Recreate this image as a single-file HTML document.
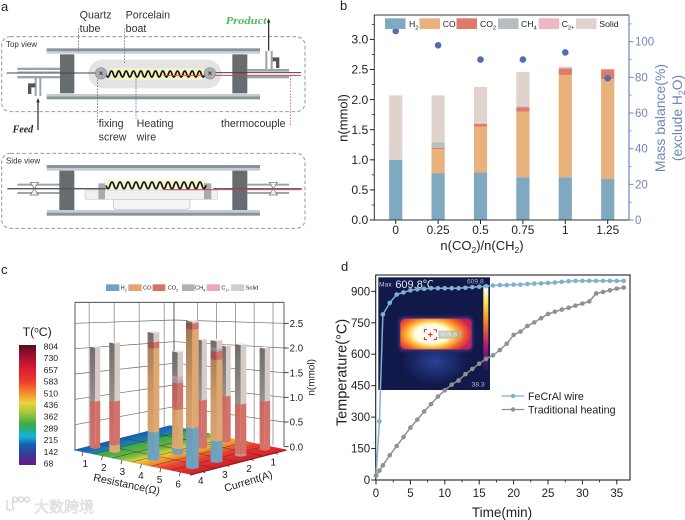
<!DOCTYPE html>
<html lang="en">
<head>
<meta charset="utf-8">
<title>Reactor schematic and results</title>
<style>
html,body{margin:0;padding:0;background:#fff;width:685px;height:520px;overflow:hidden}
svg{display:block;font-family:"Liberation Sans","Noto Sans CJK SC",sans-serif}
</style>
</head>
<body>
<svg id="fig" xmlns="http://www.w3.org/2000/svg" width="685" height="520" viewBox="0 0 685 520">
<defs>
  <linearGradient id="cbar" x1="0" y1="0" x2="0" y2="1">
    <stop offset="0" stop-color="#5a0a20"/><stop offset=".1" stop-color="#a80f30"/><stop offset=".2" stop-color="#dd1c32"/>
    <stop offset=".3" stop-color="#ec3a30"/><stop offset=".4" stop-color="#f58a2c"/><stop offset=".48" stop-color="#e8d23a"/>
    <stop offset=".56" stop-color="#a8c83c"/><stop offset=".66" stop-color="#40a84a"/><stop offset=".72" stop-color="#1fb09a"/>
    <stop offset=".76" stop-color="#16b5e0"/><stop offset=".83" stop-color="#1560b0"/><stop offset=".91" stop-color="#3a3a98"/>
    <stop offset="1" stop-color="#6a1a80"/>
  </linearGradient>
  <linearGradient id="floorGrad" gradientUnits="userSpaceOnUse" x1="0" y1="0" x2="1" y2="0" gradientTransform="matrix(350,73,290,-74,220,570)">
    <stop offset="0" stop-color="#1a5cb0"/><stop offset=".13" stop-color="#1a7ab8"/><stop offset=".2" stop-color="#3ca84c"/>
    <stop offset=".38" stop-color="#72b840"/><stop offset=".5" stop-color="#e8d23a"/><stop offset=".62" stop-color="#f5902c"/>
    <stop offset=".76" stop-color="#ea3c30"/><stop offset="1" stop-color="#d81f2c"/>
  </linearGradient>
  <linearGradient id="shade" x1="0" y1="0" x2="0" y2="1">
    <stop offset="0" stop-color="#000" stop-opacity=".3"/><stop offset=".5" stop-color="#000" stop-opacity=".08"/><stop offset="1" stop-color="#000" stop-opacity="0"/>
  </linearGradient>
  <radialGradient id="hot" cx="290" cy="222" r="122" gradientUnits="userSpaceOnUse" gradientTransform="translate(290 222) scale(1 .55) translate(-290 -222)">
    <stop offset="0" stop-color="#fff"/><stop offset=".42" stop-color="#fffbe8"/><stop offset=".52" stop-color="#ffe070"/>
    <stop offset=".66" stop-color="#ffa030"/><stop offset=".82" stop-color="#f05a2a"/><stop offset="1" stop-color="#c8205a"/>
  </radialGradient>
  <linearGradient id="thermo" x1="0" y1="0" x2="0" y2="1">
    <stop offset="0" stop-color="#fff"/><stop offset=".2" stop-color="#ffe040"/><stop offset=".45" stop-color="#f57a20"/>
    <stop offset=".7" stop-color="#b01a70"/><stop offset="1" stop-color="#1a1a60"/>
  </linearGradient>
  <radialGradient id="refl" cx=".5" cy=".5" r=".5">
    <stop offset="0" stop-color="#2a4096"/><stop offset="1" stop-color="#10194a"/>
  </radialGradient>
  <filter id="soft" x="-20%" y="-20%" width="140%" height="140%"><feGaussianBlur stdDeviation="4"/></filter>
</defs>

<!-- panel labels -->
<text x="1" y="11" font-size="13" fill="#222">a</text>
<text x="340" y="10" font-size="13" fill="#222">b</text>
<text x="1" y="274" font-size="13" fill="#222">c</text>
<text x="341" y="271" font-size="13" fill="#222">d</text>

<!-- panel a schematic, drawn at 3x units -->
<g id="panelA" transform="scale(.33333)">
  <rect x="5" y="110" width="910" height="225" rx="26" fill="none" stroke="#999" stroke-width="3" stroke-dasharray="11 7"/>
  <rect x="5" y="460" width="910" height="225" rx="26" fill="none" stroke="#999" stroke-width="3" stroke-dasharray="11 7"/>
  <text x="18" y="141" font-size="24" fill="#333">Top view</text>
  <text x="18" y="490" font-size="24" fill="#333">Side view</text>

  <!-- top view -->
  <g>
    <rect x="140" y="145" width="640" height="9" fill="#87949c"/><rect x="140" y="154" width="640" height="7" fill="#c4cdd2"/>
    <rect x="140" y="282" width="640" height="7" fill="#c4cdd2"/><rect x="140" y="289" width="640" height="9" fill="#87949c"/>
    <rect x="52" y="203" width="128" height="7" fill="#9aa5ab"/><rect x="52" y="213" width="128" height="5" fill="#c4cdd2"/>
    <rect x="52" y="228" width="128" height="7" fill="#9aa5ab"/>
    <rect x="742" y="207" width="125" height="8" fill="#9aa5ab"/><rect x="742" y="228" width="125" height="7" fill="#9aa5ab"/>
    <rect x="104" y="228" width="6" height="60" fill="#9aa5ab"/><rect x="118" y="228" width="6" height="60" fill="#9aa5ab"/>
    <rect x="796" y="153" width="6" height="56" fill="#9aa5ab"/><rect x="812" y="153" width="6" height="56" fill="#9aa5ab"/>
    <path d="M84 250h22v12h-22zM84 262h10v20h-10z" fill="#555"/><path d="M818 172h20v12h-20zM828 184h10v20h-10z" fill="#555"/>
    <rect x="180" y="163" width="43" height="117" fill="#676c70"/><rect x="697" y="163" width="45" height="117" fill="#676c70"/>
  </g>
  <rect x="265" y="179" width="400" height="86" rx="43" fill="#e4e4e4"/>
  <rect x="332" y="205" width="278" height="35" fill="#f4f5c6"/>
  <path d="M20 219H295" stroke="#444" stroke-width="3" fill="none"/>
  <path d="M640 218H903" stroke="#444" stroke-width="3" fill="none"/>
  <path id="coilTop" fill="none" stroke="#111" stroke-width="5"/>
  <path d="M490 226H903" stroke="#d8414f" stroke-width="3" fill="none"/>
  <circle cx="303" cy="220" r="17" fill="#aab0b4" stroke="#888" stroke-width="2"/>
  <circle cx="630" cy="220" r="17" fill="#aab0b4" stroke="#888" stroke-width="2"/>
  <path d="M298 215l10 10M308 215l-10 10M625 215l10 10M635 215l-10 10" stroke="#533" stroke-width="2.5"/>

  <!-- annotation leaders -->
  <path d="M235 85V158M373 85V190M293 238V372M408 236V356" stroke="#555" stroke-width="2" stroke-dasharray="5 4" fill="none"/>
  <path d="M872 226V375" stroke="#d8414f" stroke-width="2" stroke-dasharray="5 4" fill="none"/>
  <path d="M114 390V304" stroke="#222" stroke-width="3.5" fill="none"/><path d="M114 294l-5 13h10z" fill="#222"/>
  <path d="M806 152V66" stroke="#222" stroke-width="3.5" fill="none"/><path d="M806 55l-5 13h10z" fill="#222"/>

  <g font-size="32" fill="#333">
    <text><tspan x="239" y="55">Quartz</tspan><tspan x="239" y="96">tube</tspan></text>
    <text><tspan x="377" y="55">Porcelain</tspan><tspan x="377" y="96">boat</tspan></text>
    <text><tspan x="296" y="381">fixing</tspan><tspan x="296" y="421">screw</tspan></text>
    <text><tspan x="410" y="381">Heating</tspan><tspan x="410" y="421">wire</tspan></text>
    <text x="663" y="381">thermocouple</text>
  </g>
  <text x="677" y="72" font-size="32" font-weight="bold" font-style="italic" fill="#4cc05c" font-family="'Liberation Serif',serif" textLength="123" lengthAdjust="spacingAndGlyphs">Product</text>
  <text x="38" y="398" font-size="30" font-weight="bold" font-style="italic" fill="#222" font-family="'Liberation Serif',serif">Feed</text>

  <!-- side view -->
  <g>
    <rect x="140" y="495" width="640" height="9" fill="#87949c"/><rect x="140" y="504" width="640" height="8" fill="#c4cdd2"/>
    <rect x="140" y="630" width="640" height="8" fill="#c4cdd2"/><rect x="140" y="638" width="640" height="9" fill="#87949c"/>
    <rect x="52" y="551" width="128" height="6" fill="#9aa5ab"/><rect x="52" y="576" width="128" height="6" fill="#9aa5ab"/>
    <rect x="742" y="551" width="125" height="6" fill="#9aa5ab"/><rect x="742" y="576" width="125" height="6" fill="#9aa5ab"/>
    <rect x="178" y="512" width="45" height="118" fill="#676c70"/><rect x="697" y="512" width="45" height="118" fill="#676c70"/>
  </g>
  <rect x="312" y="537" width="310" height="36" fill="#f6f7d6"/>
  <rect x="255" y="570" width="397" height="28" rx="5" fill="#f0f0f0" stroke="#ccc" stroke-width="2"/>
  <path d="M340 598H570V618Q570 628 558 628H352Q340 628 340 618Z" fill="#f4f4f4" stroke="#bbb" stroke-width="2"/>
  <rect x="295" y="550" width="20" height="48" fill="#a5adb1"/>
  <rect x="612" y="550" width="22" height="48" fill="#a5adb1"/>
  <path d="M22 566H318" stroke="#555" stroke-width="4" fill="none"/>
  <path d="M640 566H905" stroke="#555" stroke-width="3" fill="none"/>
  <path id="coilSide" fill="none" stroke="#111" stroke-width="5"/>
  <path d="M490 569H905" stroke="#c8404c" stroke-width="3" fill="none"/>
  <path d="M91 547H115L91 585H115Z" fill="#fff" fill-opacity=".8" stroke="#666" stroke-width="2"/>
  <path d="M808 547H832L808 585H832Z" fill="#fff" fill-opacity=".8" stroke="#666" stroke-width="2"/>
</g>

<!-- panel b -->
<g id="panelB"></g>
<!-- panel c -->
<g id="panelC" transform="translate(0 260) scale(.33333)"></g>
<!-- panel d -->
<g transform="translate(335 260) scale(.33333)">
  <rect x="130" y="52" width="335" height="338" fill="#10194a"/>
  <ellipse cx="300" cy="305" rx="100" ry="70" fill="url(#refl)"/>
  <rect x="190" y="170" width="225" height="105" rx="18" fill="#3a2f72" filter="url(#soft)"/>
  <rect x="196" y="176" width="214" height="92" rx="14" fill="url(#hot)"/>
  <text x="132" y="79" font-size="20" fill="#ccd">Max</text>
  <text x="181" y="84" font-size="33" fill="#e8e8f0">609.8℃</text>
  <text x="396" y="71" font-size="20" fill="#bbb">609.8</text>
  <text x="410" y="380" font-size="20" fill="#bbb">38.3</text>
  <rect x="445" y="80" width="15" height="250" fill="url(#thermo)"/>
  <rect x="310" y="212" width="70" height="24" fill="#a8b4a8" fill-opacity=".7"/>
  <text x="316" y="230" font-size="20" fill="#eee">609.8</text>
  <path d="M268 217v-8h8M296 209h8v8M304 231v8h-8M276 239h-8v-8M286 217v14M279 224h14" fill="none" stroke="#d8202c" stroke-width="3"/>
</g>
<g id="panelD"></g>

<text x="34" y="512" font-size="15" fill="#eceef0" stroke="#d4d7da" stroke-width=".5">大数跨境</text>
<path d="M7 500v10h5M14 500q-3 5 0 10M15 497a2.5 2.5 0 1 0 .1 0M21 497a2.5 2.5 0 1 0 .1 0M27 497a2.5 2.5 0 1 0 .1 0" fill="none" stroke="#d4d7da" stroke-width="1.3"/>
</svg>

<script>
// ---------- Panel b data ----------
var bCategories = ['0','0.25','0.5','0.75','1','1.25'];
var bH2    = [1.00,0.78,0.79,0.71,0.71,0.68];
var bCO    = [0.00,0.40,0.76,1.09,1.70,1.66];
var bCO2   = [0.00,0.02,0.05,0.07,0.11,0.16];
var bCH4   = [0.00,0.09,0.00,0.02,0.00,0.00];
var bC2    = [0.00,0.00,0.00,0.00,0.00,0.00];
var bSolid = [1.07,0.78,0.61,0.57,0.03,0.01];
var bMassBalance = [106,98,90,90,94,79.5];
var bLeftTicks = [0,0.5,1,1.5,2,2.5,3];
var bRightTicks = [0,20,40,60,80,100];

// ---------- Panel c data ----------
var cResistance = [1,2,4,4,6,4,6,4,6,6];
var cCurrent    = [4,4,4,3,4,2,3,1,2,1];
var cH2    = [0.00,0.00,0.52,0.11,0.71,0.00,0.39,0.00,0.02,0.00];
var cCO    = [0.00,0.15,1.55,0.76,1.70,0.00,1.47,0.00,0.02,0.00];
var cCO2   = [0.97,0.87,0.12,0.52,0.11,0.99,0.16,1.00,0.96,0.99];
var cCH4   = [0.00,0.00,0.00,0.07,0.00,0.00,0.04,0.00,0.00,0.00];
var cC2    = [0.00,0.00,0.00,0.06,0.00,0.00,0.02,0.00,0.00,0.00];
var cSolid = [1.10,1.14,0.17,0.47,0.03,1.23,0.13,1.08,1.13,1.06];
var cResistanceTicks = [1,2,3,4,5,6];
var cCurrentTicks = [1,2,3,4];
var cAmountTicks = ['0.0','0.5','1.0','1.5','2.0','2.5'];
var cTempLabels = ['804','730','657','583','510','436','362','289','215','142','68'];

// ---------- Panel d data ----------
var dTimeFe = [0,0.5,1,2,3,4,5,6,7,8,9,10,11,12,13,14,15,16,17,18,19,20,21,22,23,24,25,26,27,28,29,30,31,32,33,34,35,36];
var dFeCrAl = [20,280,790,845,885,895,905,910,912,915,915,915,915,915,917,920,922,925,928,930,930,932,932,935,937,938,940,942,945,948,950,950,950,950,950,950,950,950];
var dTimeTrad = [0,0.5,1,2,3,4,5,6,7,8,9,10,11,12,13,14,15,16,17,18,19,20,21,22,23,24,25,26,27,28,29,30,31,32,33,34,35,36];
var dTraditional = [20,45,70,118,162,205,250,288,327,362,398,428,455,475,505,530,555,578,595,620,650,692,708,735,752,772,792,803,813,822,832,842,852,890,897,905,913,918];
var dXTicks = [0,5,10,15,20,25,30,35];
var dYTicks = [0,150,300,450,600,750,900];

var NS = 'http://www.w3.org/2000/svg';
var COLORS = {H2:'#7fa8c1',CO:'#e9b27c',CO2:'#df7b68',CH4:'#b7bec0',C2:'#efb7c3',Solid:'#e0d3cd'};
var COLORS3D = {H2:'#6fa3bf',CO:'#dfa872',CO2:'#d4726a',CH4:'#aab4b8',C2:'#e8a8b8',Solid:'#d6cbc6'};
var SPECIES = ['H2','CO','CO2','CH4','C2','Solid'];

function mk(parent, tag, attrs, txt){
  var e = document.createElementNS(NS, tag);
  for (var k in attrs) e.setAttribute(k, attrs[k]);
  if (txt !== undefined) e.textContent = txt;
  parent.appendChild(e);
  return e;
}
function subLabel(parent, x, y, size, base, sub, sfx, fill){
  var t = mk(parent,'text',{x:x,y:y,'font-size':size,fill:fill});
  mk(t,'tspan',{},base);
  if (sub){ mk(t,'tspan',{dy:size*0.3,'font-size':size*0.65},sub);
    if (sfx){ mk(t,'tspan',{dy:-size*0.3},sfx); } }
  return t;
}

// coils in schematic
function coil(x0,x1,y,amp,per){
  var d='M'+x0+' '+y, x=x0, s=1;
  while(x<x1){ d+=' Q'+(x+per/2)+' '+(y+s*amp*2)+' '+(x+per)+' '+y; x+=per; s=-s; }
  return d;
}
document.getElementById('coilTop').setAttribute('d',coil(318,612,222,9,11));
document.getElementById('coilSide').setAttribute('d',coil(318,610,556,10,12));

// ========== Panel b ==========
(function(){
  var g = document.getElementById('panelB');
  var L=374.3,R=629,T=15,B=220;
  function xb(i){ return 395.7 + i*42.4; }
  function yb(v){ return B - v*60.2; }
  function yr(v){ return B - v*1.783; }
  var series = {H2:bH2,CO:bCO,CO2:bCO2,CH4:bCH4,C2:bC2,Solid:bSolid};
  bCategories.forEach(function(c,i){
    var cum=0;
    SPECIES.forEach(function(s){
      var v=series[s][i];
      if(v>0){
        var r=mk(g,'rect',{x:xb(i)-6.6,y:yb(cum+v),width:13.2,height:yb(cum)-yb(cum+v),fill:COLORS[s]});
        
        
      }
      cum+=v;
    });
    var tk=mk(g,'line',{x1:xb(i),x2:xb(i),y1:B,y2:B+4,stroke:'#222','stroke-width':1});
    
    
    var lb=mk(g,'text',{x:xb(i),y:234,'font-size':11.8,'text-anchor':'middle',fill:'#222'},c);
    
    
  });
  bMassBalance.forEach(function(v,i){
    var p=mk(g,'circle',{cx:xb(i),cy:yr(v),r:3.3,fill:'#4f6fb2'});
    
    
  });
  var frame=mk(g,'path',{d:'M'+R+' '+T+'H'+L+'V'+B+'H'+R,fill:'none',stroke:'#333','stroke-width':1});
  
  
  var rax=mk(g,'line',{x1:R,x2:R,y1:T,y2:B,stroke:'#6f86b8','stroke-width':1.2});
  
  
  bLeftTicks.forEach(function(v){
    var t=mk(g,'line',{x1:L-4.5,x2:L,y1:yb(v),y2:yb(v),stroke:'#222','stroke-width':1});
    
    
    var m=mk(g,'line',{x1:L-2.5,x2:L,y1:yb(v+0.25),y2:yb(v+0.25),stroke:'#222','stroke-width':.8});
    
    
    var l=mk(g,'text',{x:L-6,y:yb(v)+4.2,'font-size':12.2,'text-anchor':'end',fill:'#222'},v.toFixed(1));
    
    
  });
  bRightTicks.forEach(function(v){
    var t=mk(g,'line',{x1:R,x2:R+4.5,y1:yr(v),y2:yr(v),stroke:'#6f86b8','stroke-width':1});
    
    
    var m=mk(g,'line',{x1:R,x2:R+2.5,y1:yr(v+10),y2:yr(v+10),stroke:'#6f86b8','stroke-width':.8});
    
    
    var l=mk(g,'text',{x:R+6,y:yr(v)+4,'font-size':11.5,fill:'#6f86b8'},String(v));
    
    
  });
  var leg=[['H2',385,'H','2',409],['CO',419.5,'CO','',442.7],['CO2',456.5,'CO','2',480],['CH4',498,'CH','4',521],['C2',538.7,'C','2+',561.7],['Solid',576,'Solid','',599.3]];
  leg.forEach(function(e){
    var s=mk(g,'rect',{x:e[1],y:18.3,width:20.5,height:10.7,fill:COLORS[e[0]]});
    
    
    var t=subLabel(g,e[4],27,8.7,e[2],e[3],'','#222');
    
    
  });
  var yt=mk(g,'text',{'font-size':13,fill:'#222','text-anchor':'middle',transform:'translate(347.5 118) rotate(-90)'},'n(mmol)');
  
  
  var xt=mk(g,'text',{x:482,y:250,'font-size':13,fill:'#222','text-anchor':'middle'});
  
  
  mk(xt,'tspan',{},'n(CO');mk(xt,'tspan',{dy:3,'font-size':8.5},'2');mk(xt,'tspan',{dy:-3},')/n(CH');mk(xt,'tspan',{dy:3,'font-size':8.5},'2');mk(xt,'tspan',{dy:-3},')');
  var r1=mk(g,'text',{'font-size':14,fill:'#6f86b8','text-anchor':'middle',transform:'translate(665 118) rotate(-90)'},'Mass balance(%)');
  
  
  var r2=mk(g,'text',{'font-size':13.8,fill:'#6f86b8','text-anchor':'middle',transform:'translate(682 118) rotate(-90)'});
  
  
  mk(r2,'tspan',{},'(exclude H');mk(r2,'tspan',{dy:3,'font-size':9},'2');mk(r2,'tspan',{dy:-3},'O)');
})();

// ========== Panel c ==========
(function(){
  var g=document.getElementById('panelC');
  // floor projection (resistance fraction u, current fraction v) in 3x units
  function floorXY(u,v){ return [220+350*u+290*v, 570+73*u-74*v]; }
  function uOf(r){ return (r-0.5)/6; }
  function vOf(c){ return (4-c+0.5)/4; }
  function rightAxisY(v){ return 560-148*v; }
  function leftWallY(v){ return 570-152*v; }
  function backY(v){ return 505-130*v; }

  // walls
  var walls=mk(g,'path',{d:'M225 127H852M225 127V570M522 127V505M852 127V560',fill:'none',stroke:'#333','stroke-width':2.4});
  
  
  cAmountTicks.forEach(function(lbl){
    var v=parseFloat(lbl);
    if(v>0){
      var w=mk(g,'path',{d:'M225 '+leftWallY(v)+'L522 '+backY(v)+'L852 '+rightAxisY(v),fill:'none',stroke:'#666','stroke-width':2});
      
      
    }
    var t=mk(g,'line',{x1:852,x2:866,y1:rightAxisY(v),y2:rightAxisY(v),stroke:'#222','stroke-width':2.5});
    
    
    var l=mk(g,'text',{x:869,y:rightAxisY(v)+11,'font-size':29,fill:'#222'},lbl);
    
    
  });
  // wall verticals from grid ticks
  cCurrentTicks.forEach(function(c){
    var bx=230+300*vOf(c), by=570-65*vOf(c);
    var a=mk(g,'line',{x1:bx,y1:by,x2:bx,y2:127,stroke:'#777','stroke-width':2});
    
    
  });
  cResistanceTicks.forEach(function(r){
    if(r===6) return;
    var qx=536.5+56.5*r, qy=505+55*(qx-520)/330;
    var e=mk(g,'line',{x1:qx,y1:qy,x2:qx,y2:127,stroke:'#777','stroke-width':2});
    
    
  });

  // floor
  var p0=floorXY(0,0),p1=floorXY(1,0),p2=floorXY(1,1),p3=floorXY(0,1);
  var edge=mk(g,'polygon',{points:[p0,p1,[p1[0],p1[1]+4],[p2[0],p2[1]+3],p2].map(function(p){return p.join(',');}).join(' '),fill:'#8c1c20'});
  
  
  var fl=mk(g,'polygon',{points:[p0,p1,p2,p3].map(function(p){return p.join(',');}).join(' '),fill:'url(#floorGrad)'});
  
  
  cResistanceTicks.forEach(function(r){
    var a=floorXY(r/6,0),b=floorXY(r/6,1);
    if(r<6){
      var ln=mk(g,'line',{x1:a[0],y1:a[1],x2:b[0],y2:b[1],stroke:'#333','stroke-width':1.6,'stroke-opacity':.8});
      
      
    }
    var c=floorXY(uOf(r),0);
    var t=mk(g,'line',{x1:c[0],y1:c[1],x2:c[0]-3,y2:c[1]+12,stroke:'#222','stroke-width':2});
    
    
    var l=mk(g,'text',{x:c[0]+(3.5-r)*2.6,y:c[1]+45,'font-size':30,'text-anchor':'middle',fill:'#222'},String(r));
    
    
  });
  cCurrentTicks.forEach(function(k){
    var a=floorXY(0,k/4),b=floorXY(1,k/4);
    if(k<4){
      var ln=mk(g,'line',{x1:a[0],y1:a[1],x2:b[0],y2:b[1],stroke:'#333','stroke-width':1.6,'stroke-opacity':.8});
      
      
    }
    var c=floorXY(1,vOf(k));
    var t=mk(g,'line',{x1:c[0],y1:c[1],x2:c[0]+10,y2:c[1]+5,stroke:'#222','stroke-width':2});
    
    
    var l=mk(g,'text',{x:c[0]-4,y:c[1]+39,'font-size':30,'text-anchor':'middle',fill:'#222'},String(k));
    
    
  });

  // bars sorted back-to-front
  var order=cResistance.map(function(r,i){return i;});
  function depth(i){ return (1-uOf(cResistance[i]))+vOf(cCurrent[i]); }
  order.sort(function(a,b){ return depth(b)-depth(a); });
  var series={H2:cH2,CO:cCO,CO2:cCO2,CH4:cCH4,C2:cC2,Solid:cSolid};
  order.forEach(function(i){
    var base=floorXY(uOf(cResistance[i]),vOf(cCurrent[i]));
    var d=depth(i), scale=180-32*d, w=40-9*d, k=w*0.1;
    var x=base[0], y=base[1], cum=0;
    SPECIES.forEach(function(s){
      var v=series[s][i];
      if(v<=0) return;
      var y0=y-scale*cum, y1=y-scale*(cum+v);
      var lf=mk(g,'polygon',{points:[x-w/2,y0-k,x,y0,x,y1,x-w/2,y1-k].join(' '),fill:s==='Solid'?'#a09b98':COLORS3D[s]});
      
      
      var rf=mk(g,'polygon',{points:[x,y0,x+w/2,y0-k,x+w/2,y1-k,x,y1].join(' '),fill:COLORS3D[s]});
      
      
      cum+=v;
    });
    var top=y-scale*cum;
    var sh=mk(g,'polygon',{points:[x-w/2,y-k,x,y,x,top,x-w/2,top-k].join(' '),fill:'url(#shade)'});
    
    
    var cap=mk(g,'polygon',{points:[x-w/2,top-k,x,top,x+w/2,top-k,x,top-2*k].join(' '),fill:'#efe8e4'});
    
    
  });

  // titles
  var rt=mk(g,'text',{'font-size':32,fill:'#222','text-anchor':'middle',transform:'translate(378 683) rotate(12)'},'Resistance(Ω)');
  
  
  var ct=mk(g,'text',{'font-size':32,fill:'#222','text-anchor':'middle',transform:'translate(748 674) rotate(-17)'},'Current(A)');
  
  
  var nt=mk(g,'text',{'font-size':30,fill:'#222','text-anchor':'middle',transform:'translate(944 352) rotate(-90)'},'n(mmol)');
  
  

  // legend
  var leg=[['H2',318,'H','2',362],['CO',385,'CO','',429],['CO2',458,'CO','2',503],['CH4',546,'CH','4',585],['C2',620,'C','2+',664],['Solid',693,'Solid','',737]];
  leg.forEach(function(e){
    var s=mk(g,'rect',{x:e[1],y:73,width:e[0]==='CO2'||e[0]==='CH4'?38:40,height:20,fill:COLORS3D[e[0]]});
    
    
    var t=subLabel(g,e[4],89,17,e[2],e[3],'','#222');
    
    
  });

  // colour bar
  var cb=mk(g,'rect',{x:57,y:255,width:51,height:360,fill:'url(#cbar)'});
  
  
  cTempLabels.forEach(function(t,i){
    var y=258+i*35.2;
    var l=mk(g,'text',{x:131,y:y+10,'font-size':26,fill:'#222'},t);
    
    
  });
  var tt=mk(g,'text',{x:68,y:228,'font-size':37,fill:'#222'});
  
  
  mk(tt,'tspan',{},'T(');mk(tt,'tspan',{dy:-11,'font-size':24},'o');mk(tt,'tspan',{dy:11},'C)');
})();

// ========== Panel d ==========
(function(){
  var g=document.getElementById('panelD');
  var L=375.7,R=630,T=275,B=480;
  function xd(t){ return 376 + t*6.88; }
  function yd(v){ return B - v*0.2096; }
  var frame=mk(g,'rect',{x:L,y:T,width:R-L,height:B-T,fill:'none',stroke:'#222','stroke-width':1.1});
  
  
  dXTicks.forEach(function(v){
    var t=mk(g,'line',{x1:xd(v),x2:xd(v),y1:B,y2:B+4.5,stroke:'#222','stroke-width':1});
    
    
    if(xd(v+2.5)<R){
      var m=mk(g,'line',{x1:xd(v+2.5),x2:xd(v+2.5),y1:B,y2:B+2.5,stroke:'#222','stroke-width':.8});
      
      
    }
    var l=mk(g,'text',{x:xd(v),y:497,'font-size':11.5,'text-anchor':'middle',fill:'#222'},String(v));
    
    
  });
  dYTicks.forEach(function(v){
    var t=mk(g,'line',{x1:L-4.5,x2:L,y1:yd(v),y2:yd(v),stroke:'#222','stroke-width':1});
    
    
    var l=mk(g,'text',{x:L-5.5,y:yd(v)+4,'font-size':11.5,'text-anchor':'end',fill:'#222'},String(v));
    
    
  });
  function drawLine(ts,vs,color,name){
    var pts=ts.map(function(t,i){return xd(t)+','+yd(vs[i]);}).join(' ');
    var pl=mk(g,'polyline',{points:pts,fill:'none',stroke:color,'stroke-width':1.5});
    
    
    ts.forEach(function(t,i){
      var c=mk(g,'circle',{cx:xd(t),cy:yd(vs[i]),r:2.3,fill:color});
      
      
    });
  }
  drawLine(dTimeFe,dFeCrAl,'#7fb0cc','fecral');
  drawLine(dTimeTrad,dTraditional,'#8f9090','traditional');
  [[396,'#7fb0cc','FeCrAl wire','fecral'],[409.5,'#8f9090','Traditional heating','traditional']].forEach(function(e){
    var ln=mk(g,'line',{x1:501.7,x2:524.3,y1:e[0],y2:e[0],stroke:e[1],'stroke-width':1.3});
    
    
    var c=mk(g,'circle',{cx:513,cy:e[0],r:2.2,fill:e[1]});
    
    
    var t=mk(g,'text',{x:528,y:e[0]+4,'font-size':10.7,fill:'#222'},e[2]);
    
    
  });
  var yt=mk(g,'text',{'font-size':14.5,fill:'#222','text-anchor':'middle',transform:'translate(346.5 372.5) rotate(-90)'},'Temperature(°C)');
  
  
  var xt=mk(g,'text',{x:502,y:517,'font-size':13.5,fill:'#222','text-anchor':'middle'},'Time(min)');
  
  
})();
</script>
</body>
</html>
